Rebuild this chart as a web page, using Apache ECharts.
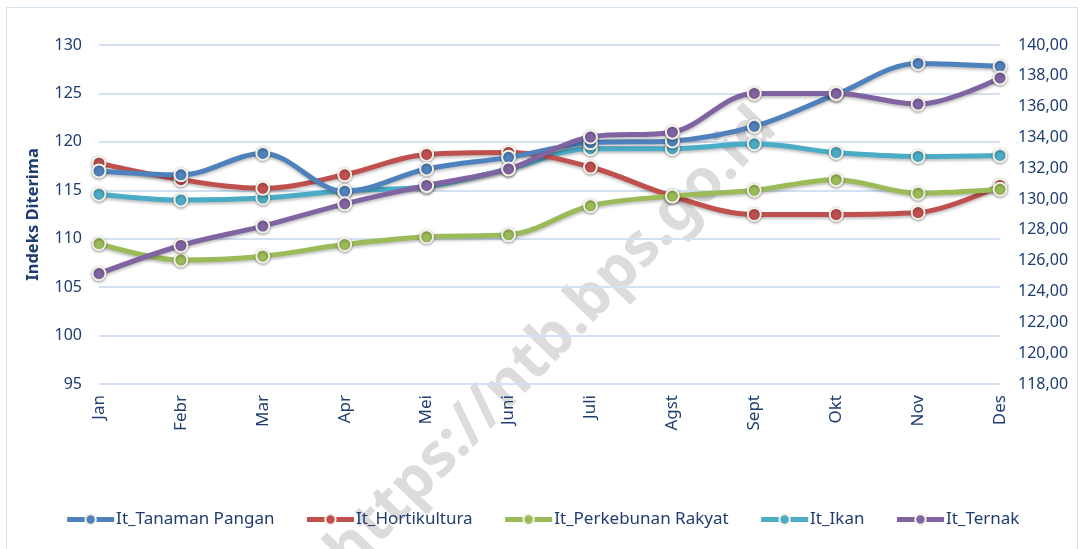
<!DOCTYPE html>
<html>
<head>
<meta charset="utf-8">
<script src="https://cdn.jsdelivr.net/npm/echarts@6/dist/echarts.min.js"></script>
<style>
  html, body { margin: 0; padding: 0; background: #fff; }
  #frame { position: absolute; left: 6px; top: 7px; width: 1070px; height: 560px; border: 1px solid #d6e2f0; }
  #chart { position: absolute; left: 0; top: 0; width: 1084px; height: 549px; }
</style>
</head>
<body>
<div id="frame"></div>
<div id="chart"></div>
<script>
const months = ['Jan', 'Febr', 'Mar', 'Apr', 'Mei', 'Juni', 'Juli', 'Agst', 'Sept', 'Okt', 'Nov', 'Des'];
const tanamanPangan = [117.0, 116.6, 118.8, 114.9, 117.2, 118.4, 119.9, 120.1, 121.6, 124.9, 128.1, 127.8];
const hortikultura = [117.8, 116.1, 115.2, 116.6, 118.7, 118.9, 117.4, 114.4, 112.5, 112.5, 112.7, 115.5];
const perkebunan = [109.5, 107.8, 108.2, 109.4, 110.2, 110.4, 113.4, 114.4, 115.0, 116.1, 114.7, 115.1];
const ikan = [114.6, 114.0, 114.2, 114.95, 115.4, 117.2, 119.3, 119.3, 119.8, 118.9, 118.5, 118.6];
const ternak = [106.4, 109.3, 111.3, 113.6, 115.5, 117.2, 120.5, 121.0, 125.0, 125.0, 123.9, 126.6];

const textColor = '#1f3d6e';
const font = 'Noto Sans';

function mkSeries(name, data, color, z) {
  return {
    name: name,
    type: 'line',
    data: data,
    smooth: 0.35,
    z: z,
    symbol: 'circle',
    symbolSize: 13,
    lineStyle: { width: 5, color: color, shadowColor: 'rgba(0,0,0,0.25)', shadowBlur: 3, shadowOffsetY: 2 },
    itemStyle: { color: color, borderColor: '#f2efe6', borderWidth: 2, shadowColor: 'rgba(0,0,0,0.35)', shadowBlur: 3, shadowOffsetY: 1 }
  };
}

const chart = echarts.init(document.getElementById('chart'));
chart.setOption({
  animation: false,
  textStyle: { fontFamily: font },
  grid: { left: 99, right: 84, top: 45, bottom: 165 },
  graphic: [{
    type: 'text',
    x: 338, y: 562,
    rotation: 46 * Math.PI / 180,
    z: -1,
    silent: true,
    style: {
      text: 'https://ntb.bps.go.id',
      font: 'bold 60px "Noto Sans"',
      fill: '#dcdcdc',
      align: 'left',
      verticalAlign: 'middle'
    }
  }],
  legend: {
    bottom: 16,
    left: 'center',
    itemWidth: 47,
    itemHeight: 13,
    itemGap: 30,
    lineStyle: { width: 5 },
    textStyle: { color: textColor, fontSize: 17, fontFamily: font, padding: [0, 0, 0, -3] },
    data: ['It_Tanaman Pangan', 'It_Hortikultura', 'It_Perkebunan Rakyat', 'It_Ikan', 'It_Ternak']
  },
  xAxis: {
    type: 'category',
    data: months,
    boundaryGap: false,
    axisLine: { show: false },
    axisTick: { show: false },
    axisLabel: { rotate: 90, color: textColor, fontSize: 17, margin: 11 }
  },
  yAxis: [{
    type: 'value',
    min: 95, max: 130, interval: 5,
    name: 'Indeks Diterima',
    nameLocation: 'middle',
    nameGap: 57,
    nameTextStyle: { color: textColor, fontSize: 16.5, fontWeight: 'bold' },
    axisLine: { show: false },
    axisTick: { show: false },
    axisLabel: { color: textColor, fontSize: 16, margin: 17 },
    splitLine: { lineStyle: { color: '#d3e1f3', width: 2 } }
  }, {
    type: 'value',
    min: 118, max: 140, interval: 2,
    position: 'right',
    axisLine: { show: false },
    axisTick: { show: false },
    axisLabel: { color: textColor, fontSize: 16, margin: 18, formatter: v => v.toFixed(2).replace('.', ',') },
    splitLine: { show: false }
  }],
  series: [
    mkSeries('It_Tanaman Pangan', tanamanPangan, '#4f81bd', 5),
    mkSeries('It_Hortikultura', hortikultura, '#c0504d', 4),
    mkSeries('It_Perkebunan Rakyat', perkebunan, '#9bbb59', 6),
    mkSeries('It_Ikan', ikan, '#4bacc6', 3),
    mkSeries('It_Ternak', ternak, '#8064a2', 7)
  ]
});
</script>
</body>
</html>
